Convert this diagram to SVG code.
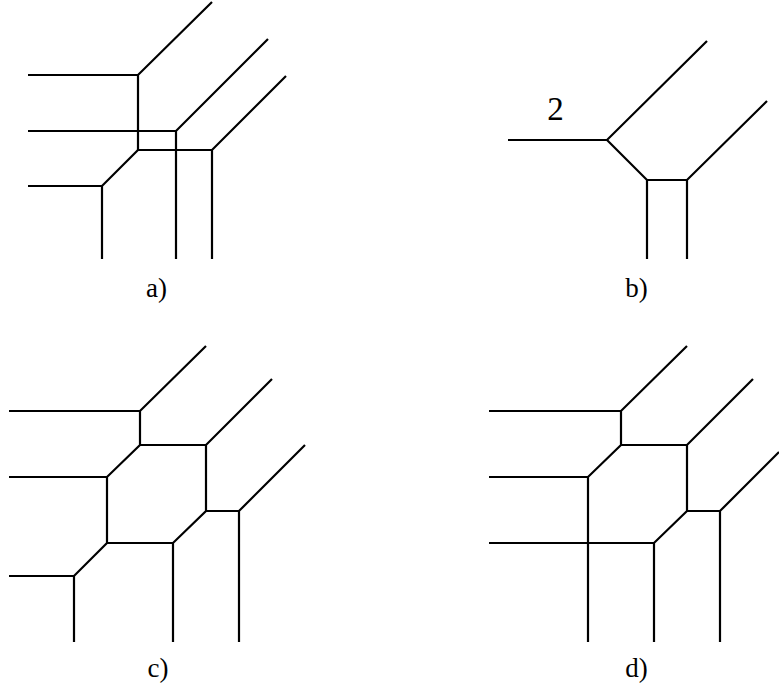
<svg xmlns="http://www.w3.org/2000/svg" width="779" height="691" viewBox="0 0 779 691">
<style>
.e{fill:none;stroke:#000;stroke-width:2.2;stroke-linecap:butt;stroke-linejoin:miter}
.t{font-family:"Liberation Serif","Times New Roman",serif;font-size:27px;fill:#000;text-anchor:middle}
</style>
<rect width="779" height="691" fill="#fff"/>
<g id="connectors">
<g id="panel-a">
<path class="e" d="M28,75H138L212,2M138,75V150H212L286,76M212,150V259"/>
<path class="e" d="M28,131H176L268,39M176,131V259"/>
<path class="e" d="M138,150L102,186H28M102,186V259"/>
</g>
<g id="panel-b">
<path class="e" d="M508,140H607L707,41M607,140L647,180H687L767,101M647,180V259M687,180V259"/>
</g>
<g id="panel-c">
<path class="e" d="M9,411H140L206,346M140,411V445H206L272,379M140,445L107,477H9M107,477V543H173L206,511V445M206,511H239L305,445M239,511V642M173,543V642M107,543L74,576H9M74,576V642"/>
</g>
<g id="panel-d">
<path class="e" d="M489,411H621L687,346M621,411V445H687L753,379M621,445L588,477H489M588,477V642M687,445V511H720L779,452M720,511V642M687,511L654,543H489M654,543V642"/>
</g>
</g>
<g id="labels">
<text class="t" x="555.5" y="120" style="font-size:33px">2</text>
<text class="t" x="156.5" y="297">a)</text>
<text class="t" x="636.5" y="297">b)</text>
<text class="t" x="158" y="677">c)</text>
<text class="t" x="636.5" y="677">d)</text>
</g>
</svg>
